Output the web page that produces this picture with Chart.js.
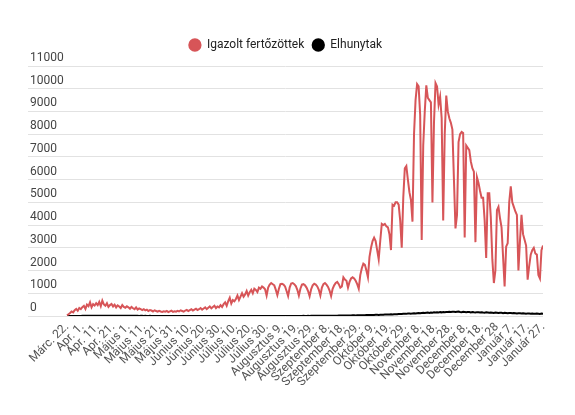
<!DOCTYPE html>
<html>
<head>
<meta charset="utf-8">
<script src="https://cdn.jsdelivr.net/npm/chart.js@4"></script>
<style>
  body { margin: 0; background: #fff; }
  #wrap { width: 575px; height: 415px; }
</style>
</head>
<body>
<div id="wrap"><canvas id="chart"></canvas></div>
<script>
// daily values, Márc. 22. -> Január 27. (one point per reported day)
const tickLabels = [
  'Márc. 22.', 'Apr. 1.', 'Apr. 11.', 'Apr. 21.', 'Május 1.', 'Május 11.', 'Május 21.', 'Május 31.',
  'Június 10.', 'Június 20.', 'Június 30.', 'Július 10.', 'Július 20.', 'Július 30.',
  'Augusztus 9.', 'Augusztus 19.', 'Augusztus 29.', 'Szeptember 8.', 'Szeptember 18.', 'Szeptember 29.',
  'Október 9.', 'Október 19.', 'Október 29.', 'November 8.', 'November 18.', 'November 28.',
  'December 8.', 'December 18.', 'December 28', 'Január 7.', 'Január 17.', 'Január 27.'
];

const confirmed = [
  30, 80, 130, 200, 160, 260, 310, 230, 350, 300,
  390, 450, 310, 500, 430, 600, 380, 520, 460, 560,
  480, 620, 430, 680, 510, 450, 560, 400, 480, 530,
  420, 500, 380, 470, 420, 350, 480, 400, 360, 430,
  380, 320, 400, 340, 300, 380, 280, 330, 300, 260,
  300, 250, 280, 220, 260, 240, 200, 250, 220, 190,
  230, 200, 180, 210, 190, 220, 170, 200, 230, 180,
  210, 190, 230, 200, 250, 220, 190, 240, 270, 220,
  260, 300, 240, 280, 320, 260, 300, 350, 280, 330,
  380, 300, 360, 420, 340, 400, 450, 350, 420, 380,
  480, 400, 520, 600, 450, 650, 800, 550, 700, 650,
  750, 900, 700, 850, 1000, 850, 950, 1100, 900, 1050,
  1150, 1000, 1200, 1150, 1050, 1250, 1200, 1300, 1250, 1180,
  900, 1250, 1380, 1450, 1400, 1350, 1150,
  920, 1200, 1400, 1420, 1380, 1300, 1100,
  880, 1250, 1430, 1450, 1400, 1320, 1150,
  900, 1200, 1380, 1400, 1350, 1250, 1100,
  870, 1180, 1350, 1420, 1380, 1300, 1150,
  900, 1250, 1400, 1450, 1380, 1280, 1120,
  880, 1200, 1350, 1450, 1500, 1400, 1250,
  1300, 1700, 1600, 1550, 1250, 1500, 1650, 1700, 1650, 1550,
  1400, 1200, 1800, 2100, 2300, 2250, 2000, 1700, 2600, 3000,
  3300, 3450, 3300, 2900, 2500, 3300, 4050, 4000, 4050, 3950,
  3900, 3600, 2900, 4900, 4850, 5000, 5000, 4900, 4200, 3000,
  5200, 6500, 6600, 6000, 5450, 5100, 4150, 8000, 9500, 10200,
  10100, 8850, 3350, 7500, 9000, 10150, 9600, 9500, 9400, 5000,
  8500, 10250, 10100, 9300, 9650, 8700, 4200, 8000, 9700, 9000,
  8700, 8500, 8200, 6000, 3850, 4450, 7650, 8000, 8100, 8050,
  3450, 7500, 7400, 7300, 6800, 6500, 6350, 3250, 6100, 5850,
  5500, 5200, 5200, 4200, 2550, 5400, 5400, 4350, 2500, 1450,
  2000, 4650, 4800, 4300, 3900, 2600, 1300, 3050, 3200, 5000,
  5700, 5000, 4800, 4600, 4450, 2000, 3300, 4450, 3600, 3350,
  3100, 1600, 2200, 2700, 2900, 3000, 2750, 2700, 1800, 1650,
  2900, 3100
];

const deaths = [
  1, 2, 1, 3, 2, 3, 4, 3, 5, 4,
  6, 8, 7, 10, 12, 9, 11, 13, 10, 12,
  14, 12, 15, 11, 13, 14, 10, 12, 11, 13,
  10, 12, 9, 11, 10, 8, 12, 9, 10, 8,
  9, 7, 8, 10, 6, 7, 8, 5, 6, 7,
  5, 6, 4, 5, 6, 3, 4, 5, 3, 4,
  3, 4, 2, 3, 4, 2, 3, 2, 3, 2,
  2, 3, 1, 2, 1, 2, 1, 0, 1, 2,
  1, 2, 1, 0, 1, 2, 1, 1, 0, 1,
  1, 0, 1, 2, 1, 0, 1, 1, 2, 1,
  0, 1, 1, 0, 2, 1, 1, 0, 1, 1,
  1, 2, 0, 1, 1, 2, 1, 0, 1, 1,
  2, 1, 1, 0, 1, 2, 1, 1, 2, 1,
  1, 2, 1, 3, 2, 1, 2, 3, 2, 1,
  3, 2, 4, 3, 2, 5, 3, 4, 2, 3,
  4, 3, 5, 4, 6, 5, 4, 6, 5, 7,
  6, 8, 7, 9, 8, 10, 9, 11, 10, 12,
  11, 13, 12, 14, 15, 13, 16, 18, 17, 19,
  20, 22, 19, 24, 26, 23, 28, 30, 27, 31,
  33, 30, 35, 38, 34, 40, 42, 39, 45, 48,
  44, 50, 53, 49, 56, 60, 55, 63, 66, 61,
  70, 74, 68, 78, 82, 76, 88, 92, 85, 96,
  100, 94, 105, 110, 102, 115, 120, 112, 125, 130,
  122, 135, 140, 130, 145, 150, 138, 155, 148, 160,
  152, 165, 158, 170, 160, 175, 168, 180, 172, 185,
  178, 190, 182, 175, 188, 195, 180, 170, 185, 176,
  168, 180, 172, 160, 175, 165, 158, 170, 162, 150,
  165, 155, 148, 160, 150, 140, 155, 145, 135, 150,
  142, 130, 145, 138, 125, 140, 132, 120, 135, 128,
  118, 130, 122, 112, 125, 118, 108, 120, 112, 102,
  115, 108, 98, 110, 104, 95, 108, 100, 92, 105,
  100
];

const seriesNames = ['Igazolt fertőzöttek', 'Elhunytak'];
const seriesColors = ['#d75558', '#000000'];

const toPoints = (arr) => arr.map((v, i) => ({ x: i, y: v }));

// leave some room between the legend and the plot
const legendGap = {
  id: 'legendGap',
  beforeInit(chart) {
    const fit = chart.legend.fit;
    chart.legend.fit = function () {
      fit.call(this);
      this.height += 5;
    };
  },
};

new Chart(document.getElementById('chart'), {
  type: 'line',
  data: {
    datasets: [
      {
        label: seriesNames[0],
        data: toPoints(confirmed),
        borderColor: seriesColors[0],
        backgroundColor: seriesColors[0],
        borderWidth: 2,
        pointRadius: 0,
      },
      {
        label: seriesNames[1],
        data: toPoints(deaths),
        borderColor: seriesColors[1],
        backgroundColor: seriesColors[1],
        borderWidth: 2,
        pointRadius: 0,
      },
    ],
  },
  plugins: [legendGap],
  options: {
    responsive: true,
    maintainAspectRatio: false,
    animation: false,
    layout: { padding: { left: 28, right: 32, top: 31, bottom: 29 } },
    plugins: {
      tooltip: { enabled: false },
      legend: {
        position: 'top',
        labels: {
          usePointStyle: true,
          pointStyle: 'circle',
          boxWidth: 16,
          boxHeight: 8,
          padding: 8,
          color: '#222',
          font: { family: 'Roboto', size: 12 },
        },
      },
    },
    scales: {
      x: {
        type: 'linear',
        min: -25.4,
        max: 310,
        grid: { display: false, drawTicks: false },
        border: { display: false },
        afterBuildTicks: (axis) => {
          axis.ticks = tickLabels.map((t, k) => ({ value: k * 10 }));
        },
        afterFit: (scale) => { scale.height = 70; },
        ticks: {
          autoSkip: false,
          minRotation: 45,
          maxRotation: 45,
          padding: 4,
          color: '#555',
          font: { family: 'Roboto', size: 12 },
          callback: (value, index) => tickLabels[index],
        },
      },
      y: {
        min: 0,
        max: 11000,
        grid: { color: '#e2e2e2', drawTicks: false },
        border: { display: false },
        afterFit: (scale) => { scale.width = 0; },
        ticks: {
          stepSize: 1000,
          mirror: true,
          padding: 2,
          labelOffset: -8,
          color: '#444',
          font: { family: 'Roboto', size: 12 },
          callback: (value) => String(value),
        },
      },
    },
  },
});
</script>
</body>
</html>
